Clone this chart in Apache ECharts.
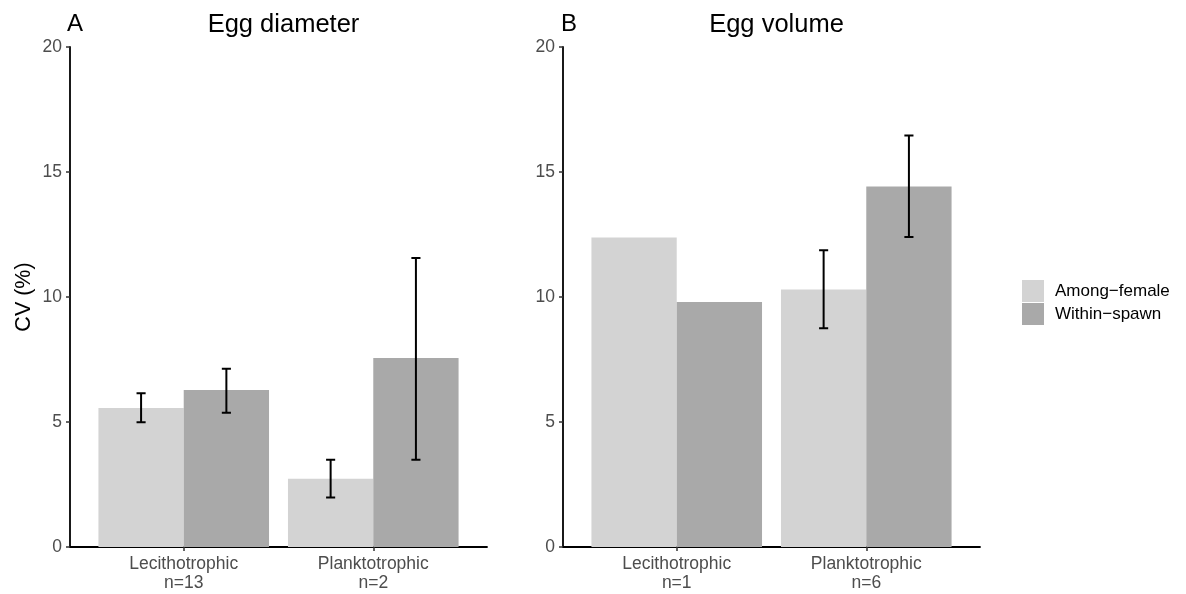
<!DOCTYPE html>
<html>
<head>
<meta charset="utf-8">
<script src="https://cdn.jsdelivr.net/npm/echarts@6/dist/echarts.min.js"></script>
<style>
  html, body { margin: 0; padding: 0; background: #fff; }
  #chart { width: 1186px; height: 594px; }
</style>
</head>
<body>
<div id="chart"></div>
<script>
var categories = ['Lecithotrophic', 'Planktotrophic'];
var nDiameter = ['n=13', 'n=2'];
var nVolume = ['n=1', 'n=6'];
var groups = ['Among\u2212female', 'Within\u2212spawn'];
var yTicks = [0, 5, 10, 15, 20];

// panel A: egg diameter
var diamAmong = [5.56, 2.73];
var diamAmongLo = [4.99, 1.98];
var diamAmongHi = [6.15, 3.49];
var diamWithin = [6.28, 7.56];
var diamWithinLo = [5.37, 3.49];
var diamWithinHi = [7.13, 11.56];

// panel B: egg volume
var volAmong = [12.38, 10.3];
var volAmongLo = [null, 8.75];
var volAmongHi = [null, 11.87];
var volWithin = [9.8, 14.42];
var volWithinLo = [null, 12.4];
var volWithinHi = [null, 16.46];

var FONT = 'Liberation Sans, Arial, Helvetica, sans-serif';
var colors = ['#d3d3d3', '#a9a9a9'];
var offsets = [-0.225, 0.225];
var halfBar = 0.225;
var capHalf = 0.024;

function barRender(offset) {
    return function (params, api) {
        var x = api.value(0) + offset;
        var p0 = api.coord([x - halfBar, api.value(1)]);
        var p1 = api.coord([x + halfBar, 0]);
        return {
            type: 'rect',
            shape: { x: p0[0], y: p0[1], width: p1[0] - p0[0], height: p1[1] - p0[1] },
            style: api.style()
        };
    };
}

function errRender(offset) {
    return function (params, api) {
        var x = api.value(0) + offset;
        var lo = api.value(1), hi = api.value(2);
        if (isNaN(lo) || isNaN(hi)) return;
        var top = api.coord([x, hi]);
        var bot = api.coord([x, lo]);
        var cl = api.coord([x - capHalf, hi]);
        var cr = api.coord([x + capHalf, hi]);
        var dx = (cr[0] - cl[0]) / 2;
        var st = { stroke: '#000', lineWidth: 2 };
        return {
            type: 'group',
            children: [
                { type: 'line', shape: { x1: top[0], y1: top[1], x2: bot[0], y2: bot[1] }, style: st },
                { type: 'line', shape: { x1: top[0] - dx, y1: top[1], x2: top[0] + dx, y2: top[1] }, style: st },
                { type: 'line', shape: { x1: bot[0] - dx, y1: bot[1], x2: bot[0] + dx, y2: bot[1] }, style: st }
            ]
        };
    };
}

function xAxisFor(idx, nLabels) {
    return {
        gridIndex: idx, type: 'value', min: 0.4, max: 2.6,
        axisLine: { show: true, lineStyle: { color: '#000', width: 1.8 } },
        axisTick: { show: true, length: 4, customValues: [1, 2], lineStyle: { color: '#333', width: 1.5 } },
        axisLabel: {
            customValues: [1, 2], margin: 8, color: '#4d4d4d', fontSize: 17.5, fontFamily: FONT,
            lineHeight: 19,
            formatter: function (v) { return categories[v - 1] + '\n' + nLabels[v - 1]; }
        },
        splitLine: { show: false }
    };
}

function yAxisFor(idx, withName) {
    var ax = {
        gridIndex: idx, type: 'value', min: 0, max: 20, interval: 5,
        axisLine: { show: true, lineStyle: { color: '#000', width: 1.8 } },
        axisTick: { show: true, length: 4, lineStyle: { color: '#333', width: 1.5 } },
        axisLabel: { margin: 8, color: '#4d4d4d', fontSize: 17.5, fontFamily: FONT },
        splitLine: { show: false }
    };
    if (withName) {
        ax.name = 'CV (%)';
        ax.nameLocation = 'middle';
        ax.nameGap = 35;
        ax.nameTextStyle = { color: '#000', fontSize: 21.5, fontFamily: FONT };
    }
    return ax;
}

function pairData(vals) {
    return vals.map(function (v, i) { return [i + 1, v]; });
}
function errData(lo, hi) {
    return lo.map(function (v, i) { return [i + 1, v == null ? '-' : v, hi[i] == null ? '-' : hi[i]]; });
}

var panels = [
    { among: diamAmong, within: diamWithin, err: [[diamAmongLo, diamAmongHi], [diamWithinLo, diamWithinHi]] },
    { among: volAmong, within: volWithin, err: [[volAmongLo, volAmongHi], [volWithinLo, volWithinHi]] }
];

var series = [];
panels.forEach(function (p, k) {
    [p.among, p.within].forEach(function (vals, g) {
        series.push({
            type: 'custom', name: groups[g], xAxisIndex: k, yAxisIndex: k,
            itemStyle: { color: colors[g] },
            renderItem: barRender(offsets[g]),
            encode: { x: 0, y: 1 },
            data: pairData(vals), z: 2
        });
    });
    p.err.forEach(function (e, g) {
        series.push({
            type: 'custom', xAxisIndex: k, yAxisIndex: k,
            renderItem: errRender(offsets[g]),
            encode: { x: 0, y: [1, 2] },
            data: errData(e[0], e[1]), z: 3
        });
    });
});

var chart = echarts.init(document.getElementById('chart'));
chart.setOption({
    backgroundColor: '#fff',
    animation: false,
    title: [
        { text: 'A', left: 62, top: 7, textStyle: { fontSize: 24, fontWeight: 'normal', color: '#000', fontFamily: FONT } },
        { text: 'Egg diameter', left: 278.5, textAlign: 'center', top: 7, textStyle: { fontSize: 25.5, fontWeight: 'normal', color: '#000', fontFamily: FONT } },
        { text: 'B', left: 556, top: 7, textStyle: { fontSize: 24, fontWeight: 'normal', color: '#000', fontFamily: FONT } },
        { text: 'Egg volume', left: 771.5, textAlign: 'center', top: 7, textStyle: { fontSize: 25.5, fontWeight: 'normal', color: '#000', fontFamily: FONT } }
    ],
    legend: {
        data: groups, orient: 'vertical', left: 1022, top: 280, padding: 0,
        icon: 'rect', itemWidth: 22, itemHeight: 22, itemGap: 1,
        textStyle: { fontSize: 17, color: '#000', fontFamily: FONT, padding: [0, 0, 0, 6] }
    },
    grid: [
        { left: 70, top: 47, width: 417, height: 500 },
        { left: 563, top: 47, width: 417, height: 500 }
    ],
    xAxis: [xAxisFor(0, nDiameter), xAxisFor(1, nVolume)],
    yAxis: [yAxisFor(0, true), yAxisFor(1, false)],
    series: series
});
</script>
</body>
</html>
